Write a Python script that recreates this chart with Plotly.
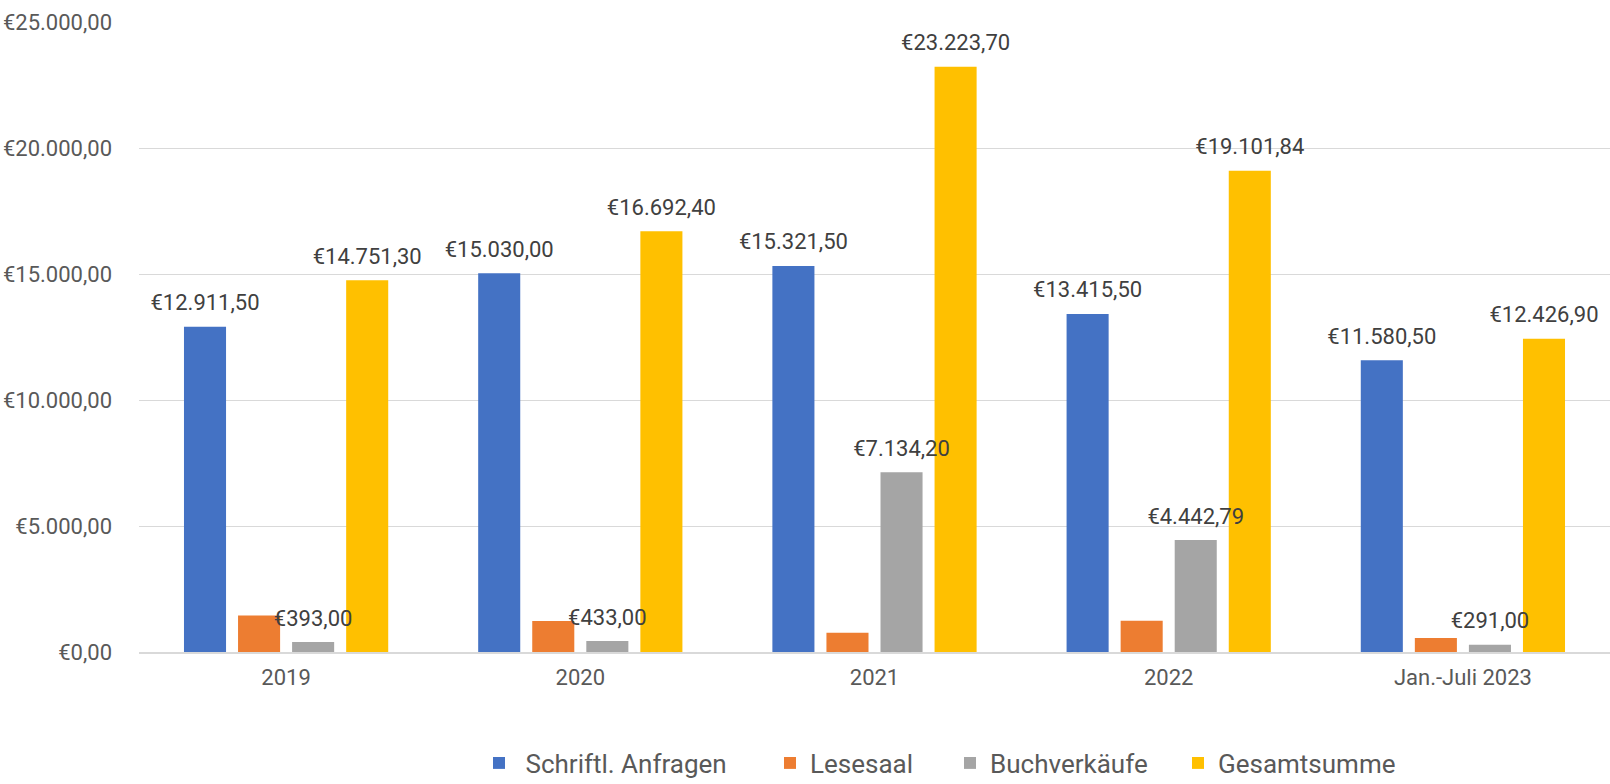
import plotly.graph_objects as go

categories = ["2019", "2020", "2021", "2022", "Jan.-Juli 2023"]
schriftl = [12911.50, 15030.00, 15321.50, 13415.50, 11580.50]
lesesaal = [1446.80, 1229.40, 768.00, 1243.55, 555.40]
buch = [393.00, 433.00, 7134.20, 4442.79, 291.00]
gesamt = [14751.30, 16692.40, 23223.70, 19101.84, 12426.90]
series_names = [" Schriftl. Anfragen", "Lesesaal", "Buchverkäufe", "Gesamtsumme"]
y_ticks = [0, 5000, 10000, 15000, 20000, 25000]


def euro(v):
    s = f"{v:,.2f}".replace(",", "X").replace(".", ",").replace("X", ".")
    return "€" + s


y_tick_text = [euro(v) for v in y_ticks]

colors = ["#4472C4", "#ED7D31", "#A5A5A5", "#FFC000"]
show_labels = [True, False, True, True]
FONT = "Liberation Sans Narrow, Arial Narrow, Roboto, sans-serif"
FS = 22
LEG_FS = 26
W, H = 1610, 784
L, R, T, B = 139, 0, 22, 132
PW = W - L - R
PH = H - T - B

legend_sym_left = [493, 784, 964, 1192]
legend_y_px = 763

fig = go.Figure()
all_vals = [schriftl, lesesaal, buch, gesamt]
for i, (name, vals) in enumerate(zip(series_names, all_vals)):
    lg = "legend" if i == 0 else f"legend{i+1}"
    fig.add_trace(go.Bar(
        x=categories, y=vals, name=name, marker_color=colors[i],
        marker_line_width=0, legend=lg, offsetgroup=str(i),
        hovertemplate="%{x}: €%{y:,.2f}<extra>" + name + "</extra>",
    ))

for i, vals in enumerate(all_vals):
    fig.add_trace(go.Scatter(
        x=categories, y=vals, mode="markers+text",
        text=[euro(v) if show_labels[i] else "" for v in vals],
        textposition="top center",
        textfont=dict(family=FONT, size=FS, color="#404040"),
        marker=dict(size=16, opacity=0),
        showlegend=False, hoverinfo="skip", offsetgroup=str(i), cliponaxis=False,
    ))

layout_legends = {}
for i in range(4):
    key = "legend" if i == 0 else f"legend{i+1}"
    layout_legends[key] = dict(
        orientation="h", x=(legend_sym_left[i] - 14 - L) / PW, xanchor="left",
        y=(PH + T - legend_y_px) / PH, yanchor="middle",
        font=dict(family=FONT, size=LEG_FS, color="#595959"),
        bgcolor="rgba(0,0,0,0)", borderwidth=0,
    )

fig.update_layout(
    width=W, height=H,
    margin=dict(l=L, r=R, t=T, b=B, autoexpand=False),
    plot_bgcolor="white", paper_bgcolor="white",
    barmode="group", bargap=0.265, bargroupgap=0.222,
    scattermode="group", scattergap=0.265,
    separators=",.",
    font=dict(family=FONT, size=FS, color="#595959"),
    **layout_legends,
)
fig.update_yaxes(
    range=[0, 25000], tickvals=y_ticks, ticktext=y_tick_text,
    gridcolor="#d9d9d9", gridwidth=1.3, zeroline=False, showline=False,
    ticks="", ticklabelstandoff=26, automargin=False,
    tickfont=dict(family=FONT, size=FS, color="#595959"),
)
fig.update_xaxes(
    showline=True, linecolor="#d9d9d9", linewidth=1.5, ticks="",
    ticklabelstandoff=5, automargin=False,
    tickfont=dict(family=FONT, size=FS, color="#595959"),
)

fig.write_html(
    "out.html",
    config={"displayModeBar": False},
    post_script="document.body.style.margin='0';document.body.style.overflow='hidden';",
)
